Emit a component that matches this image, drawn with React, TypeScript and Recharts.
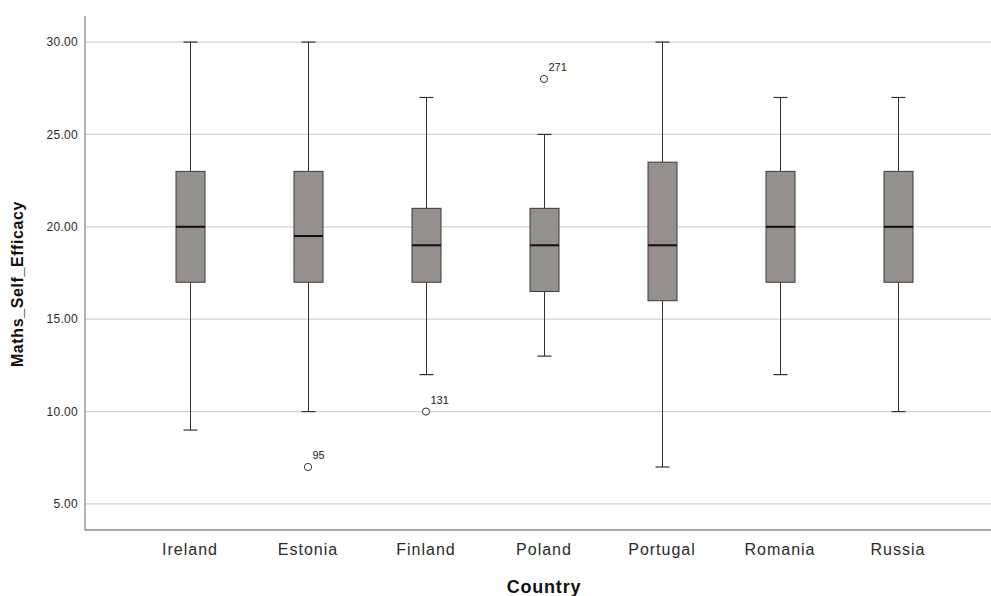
import { ComposedChart, Bar, Scatter, XAxis, YAxis, CartesianGrid } from "recharts";

const countries = ["Ireland", "Estonia", "Finland", "Poland", "Portugal", "Romania", "Russia"];
const mins = [9, 10, 12, 13, 7, 12, 10];
const q1s = [17, 17, 17, 16.5, 16, 17, 17];
const medians = [20, 19.5, 19, 19, 19, 20, 20];
const q3s = [23, 23, 21, 21, 23.5, 23, 23];
const maxs = [30, 30, 27, 25, 30, 27, 27];

// outlier value and case number per country (null = none)
const outlierValues = [null, 7, 10, 28, null, null, null];
const outlierCases = [null, "95", "131", "271", null, null, null];

const yTicks = [5, 10, 15, 20, 25, 30];

const data = countries.map((c, i) => ({
  country: c,
  range: [mins[i], maxs[i]],
  min: mins[i],
  q1: q1s[i],
  median: medians[i],
  q3: q3s[i],
  max: maxs[i],
  outlier: outlierValues[i],
  outlierCase: outlierCases[i],
}));

const font = "'Liberation Sans', Arial, sans-serif";

function BoxShape(props: any) {
  const { x, y, width, height } = props;
  const p = props.payload ?? props;
  if (height == null || !p) return null;
  const k = height / (p.max - p.min);
  const py = (v: number) => y + (p.max - v) * k;
  const cx = x + width / 2;
  const cap = 14;
  return (
    <g>
      <line x1={cx} x2={cx} y1={py(p.max)} y2={py(p.q3)} stroke="#333" strokeWidth={1} />
      <line x1={cx} x2={cx} y1={py(p.q1)} y2={py(p.min)} stroke="#333" strokeWidth={1} />
      <line x1={cx - cap / 2} x2={cx + cap / 2} y1={py(p.max)} y2={py(p.max)} stroke="#333" strokeWidth={1.2} />
      <line x1={cx - cap / 2} x2={cx + cap / 2} y1={py(p.min)} y2={py(p.min)} stroke="#333" strokeWidth={1.2} />
      <rect
        x={x}
        y={py(p.q3)}
        width={width}
        height={py(p.q1) - py(p.q3)}
        fill="#958f8d"
        stroke="#3a3a3a"
        strokeWidth={1}
      />
      <line x1={x} x2={x + width} y1={py(p.median)} y2={py(p.median)} stroke="#111" strokeWidth={2} />
    </g>
  );
}

function OutlierShape(props: any) {
  const { cx, cy } = props;
  const p = props.payload ?? props;
  if (!p || p.outlier == null || !Number.isFinite(cy)) return null;
  return (
    <g>
      <circle cx={cx} cy={cy} r={3.6} fill="#fff" stroke="#333" strokeWidth={1} />
      <text x={cx + 4.5} y={cy - 8} fontSize={11} fontFamily={font} fill="#222">
        {p.outlierCase}
      </text>
    </g>
  );
}

function YLabel() {
  return (
    <text
      x={17}
      y={284}
      transform="rotate(-90 17 284)"
      textAnchor="middle"
      dominantBaseline="central"
      fontSize={16}
      fontWeight="bold"
      letterSpacing={0.6}
      fill="#111"
      fontFamily={font}
    >
      Maths_Self_Efficacy
    </text>
  );
}

function XLabel() {
  return (
    <text
      x={544}
      y={593}
      textAnchor="middle"
      fontSize={18}
      fontWeight="bold"
      letterSpacing={0.8}
      fill="#111"
      fontFamily={font}
    >
      Country
    </text>
  );
}

export default function App() {
  return (
    <div style={{ position: "absolute", left: 0, top: 0, background: "#fff" }}>
      <ComposedChart
        width={991}
        height={596}
        data={data}
        margin={{ top: 16, right: 0, bottom: 0, left: 0 }}
      >
        <CartesianGrid vertical={false} horizontalValues={yTicks} stroke="#d2d2d2" strokeWidth={1.3} />
        <XAxis
          dataKey="country"
          type="category"
          padding={{ left: 46, right: 34 }}
          axisLine={{ stroke: "#8a8a8a", strokeWidth: 1.3 }}
          tickLine={false}
          height={66}
          tickMargin={8}
          tick={{ fontSize: 16, fill: "#2a2a2a", fontFamily: font, letterSpacing: 1 }}
          label={<XLabel />}
        />
        <YAxis
          type="number"
          domain={[3.59, 31.41]}
          ticks={yTicks}
          allowDataOverflow
          width={85}
          axisLine={{ stroke: "#8a8a8a", strokeWidth: 1.3 }}
          tickLine={false}
          tickSize={5}
          tickMargin={2}
          tickFormatter={(v) => Number(v).toFixed(2)}
          tick={{ fontSize: 12, fill: "#2a2a2a", fontFamily: font, letterSpacing: 0.3 }}
          label={<YLabel />}
        />
        <Bar dataKey="range" barSize={29} shape={BoxShape} isAnimationActive={false} />
        <Scatter dataKey="outlier" shape={OutlierShape} isAnimationActive={false} />
      </ComposedChart>
    </div>
  );
}
